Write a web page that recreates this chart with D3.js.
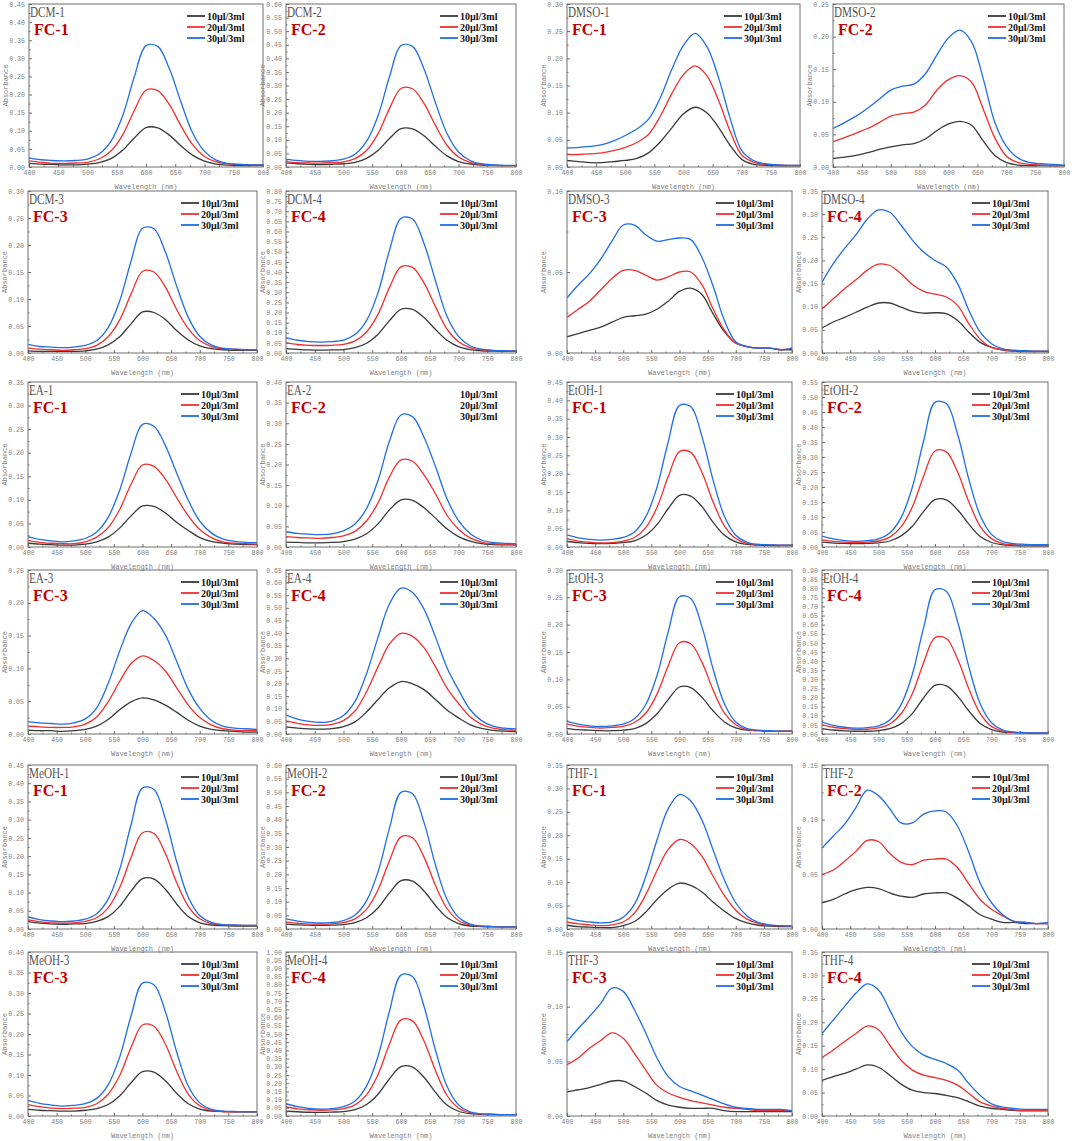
<!DOCTYPE html>
<html>
<head>
<meta charset="utf-8">
<script src="https://cdn.jsdelivr.net/npm/d3@7"></script>
<style>
  body { margin: 0; background: #fff; }
  svg { display: block; }
</style>
</head>
<body>
<script>
// wavelength grid (nm), shared by every spectrum
const wavelengths = [400,420,440,460,480,500,520,540,560,580,600,620,640,660,680,700,720,740,760,780,800];
const seriesNames = ["10µl/3ml", "20µl/3ml", "30µl/3ml"];
const xTicks = [400,450,500,550,600,650,700,750,800];

const panelNames = ["DCM-1","DCM-2","DMSO-1","DMSO-2","DCM-3","DCM-4","DMSO-3","DMSO-4",
  "EA-1","EA-2","EtOH-1","EtOH-2","EA-3","EA-4","EtOH-3","EtOH-4",
  "MeOH-1","MeOH-2","THF-1","THF-2","MeOH-3","MeOH-4","THF-3","THF-4"];
const fcLabels = ["FC-1","FC-2","FC-1","FC-2","FC-3","FC-4","FC-3","FC-4",
  "FC-1","FC-2","FC-1","FC-2","FC-3","FC-4","FC-3","FC-4",
  "FC-1","FC-2","FC-1","FC-2","FC-3","FC-4","FC-3","FC-4"];
const yMax = [0.45,0.60,0.30,0.25, 0.30,0.80,0.10,0.35, 0.35,0.40,0.45,0.55,
  0.25,0.65,0.30,0.90, 0.45,0.60,0.35,0.15, 0.40,1.00,0.15,0.35];

// absorbance, rows = 10 / 20 / 30 µl
const DCM_1 = [
  [.010,.008,.007,.006,.006,.008,.012,.023,.046,.080,.109,.108,.088,.058,.032,.016,.008,.005,.004,.004,.004],
  [.017,.013,.010,.010,.011,.013,.022,.044,.088,.156,.212,.211,.172,.113,.061,.029,.014,.009,.007,.006,.006],
  [.025,.020,.018,.017,.018,.022,.036,.071,.141,.249,.335,.333,.271,.178,.093,.043,.019,.010,.007,.006,.006]];
const DCM_2 = [
  [.015,.012,.010,.009,.010,.012,.017,.032,.061,.105,.141,.140,.115,.076,.041,.020,.011,.007,.006,.005,.005],
  [.020,.016,.015,.014,.016,.019,.031,.061,.122,.215,.289,.288,.234,.153,.080,.037,.017,.009,.006,.005,.005],
  [.028,.024,.021,.021,.023,.029,.047,.094,.188,.332,.447,.444,.361,.236,.123,.055,.024,.012,.008,.006,.006]];
const DMSO_1 = [
  [.012,.010,.008,.008,.010,.012,.016,.026,.046,.072,.098,.110,.100,.073,.040,.014,.005,.003,.002,.002,.002],
  [.023,.023,.024,.026,.030,.036,.045,.060,.093,.135,.170,.186,.168,.123,.066,.022,.009,.005,.004,.003,.003],
  [.035,.036,.038,.041,.048,.058,.070,.088,.127,.180,.224,.246,.222,.165,.090,.030,.012,.006,.004,.003,.003]];
const DMSO_2 = [
  [.013,.015,.018,.022,.027,.031,.034,.036,.043,.056,.066,.070,.064,.040,.018,.007,.003,.002,.002,.002,.002],
  [.039,.045,.052,.059,.068,.078,.082,.084,.095,.118,.134,.140,.130,.089,.045,.017,.007,.004,.003,.002,.002],
  [.059,.068,.078,.090,.104,.118,.124,.127,.143,.172,.198,.210,.192,.136,.069,.032,.014,.007,.005,.004,.003]];
const DCM_3 = [
  [.004,.003,.003,.003,.003,.004,.007,.015,.030,.054,.076,.075,.062,.041,.024,.013,.008,.006,.005,.005,.005],
  [.009,.007,.006,.005,.006,.008,.014,.030,.061,.109,.151,.150,.122,.080,.045,.023,.012,.008,.007,.006,.006],
  [.016,.012,.011,.010,.011,.014,.023,.047,.096,.170,.231,.230,.187,.123,.066,.031,.015,.009,.007,.006,.006]];
const DCM_4 = [
  [.022,.018,.015,.014,.015,.017,.026,.048,.093,.160,.216,.215,.175,.116,.063,.031,.017,.011,.009,.008,.008],
  [.050,.042,.038,.037,.038,.043,.060,.104,.191,.324,.425,.423,.346,.229,.118,.056,.027,.015,.012,.010,.010],
  [.075,.063,.056,.054,.056,.064,.091,.160,.297,.507,.665,.662,.541,.357,.181,.082,.036,.019,.013,.011,.010]];
const DMSO_3 = [
  [.010,.012,.014,.016,.019,.022,.023,.024,.027,.032,.038,.040,.036,.024,.013,.006,.004,.003,.003,.002,.002],
  [.022,.027,.032,.039,.046,.051,.051,.048,.045,.047,.050,.050,.042,.027,.014,.006,.004,.003,.003,.002,.003],
  [.034,.042,.049,.058,.069,.079,.079,.073,.069,.070,.071,.070,.059,.041,.020,.007,.004,.003,.003,.002,.003]];
const DMSO_4 = [
  [.054,.067,.077,.088,.099,.108,.108,.099,.090,.086,.087,.085,.070,.045,.023,.012,.006,.004,.003,.003,.003],
  [.095,.117,.139,.158,.179,.192,.189,.171,.148,.133,.127,.121,.103,.063,.030,.012,.007,.005,.004,.004,.004],
  [.153,.193,.226,.255,.289,.309,.304,.276,.244,.218,.200,.186,.150,.092,.045,.020,.009,.006,.005,.004,.004]];
const EA_1 = [
  [.008,.006,.005,.004,.004,.006,.011,.021,.040,.066,.087,.086,.072,.052,.035,.020,.012,.008,.006,.005,.005],
  [.014,.010,.008,.007,.007,.011,.021,.041,.079,.133,.174,.171,.144,.104,.066,.037,.020,.011,.008,.007,.006],
  [.022,.016,.013,.011,.013,.018,.032,.063,.120,.199,.260,.256,.215,.156,.099,.055,.030,.017,.012,.010,.009]];
const EA_2 = [
  [.012,.011,.010,.010,.011,.013,.019,.032,.056,.090,.114,.113,.095,.070,.044,.025,.014,.008,.006,.005,.005],
  [.025,.023,.022,.021,.023,.027,.038,.063,.107,.170,.211,.208,.175,.129,.077,.043,.022,.012,.008,.007,.006],
  [.037,.033,.031,.030,.032,.039,.056,.093,.161,.257,.320,.316,.266,.195,.117,.064,.033,.017,.011,.009,.008]];
const EtOH_1 = [
  [.015,.012,.010,.009,.010,.012,.017,.032,.061,.105,.141,.139,.110,.067,.032,.014,.007,.005,.004,.004,.004],
  [.022,.016,.013,.011,.012,.016,.026,.053,.108,.192,.260,.258,.203,.122,.057,.023,.010,.007,.006,.005,.005],
  [.033,.025,.021,.019,.021,.026,.041,.082,.163,.287,.386,.383,.301,.181,.083,.032,.013,.007,.006,.005,.005]];
const EtOH_2 = [
  [.016,.013,.012,.011,.012,.014,.020,.037,.069,.119,.158,.157,.124,.076,.035,.015,.007,.005,.004,.004,.004],
  [.024,.019,.016,.015,.016,.020,.033,.067,.134,.237,.320,.317,.250,.150,.069,.028,.011,.007,.006,.005,.005],
  [.036,.027,.021,.019,.021,.027,.047,.098,.200,.355,.482,.478,.376,.225,.105,.042,.018,.011,.009,.008,.008]];
const EA_3 = [
  [.006,.005,.005,.004,.005,.007,.012,.022,.037,.049,.055,.052,.044,.033,.021,.012,.007,.005,.004,.003,.003],
  [.012,.011,.010,.010,.011,.015,.026,.049,.080,.107,.119,.112,.096,.070,.044,.025,.014,.008,.006,.005,.005],
  [.019,.017,.016,.015,.017,.023,.040,.077,.126,.168,.188,.176,.151,.110,.068,.039,.021,.012,.009,.008,.007]];
const EA_4 = [
  [.028,.023,.020,.019,.021,.029,.048,.087,.137,.183,.208,.199,.176,.137,.095,.064,.037,.022,.014,.011,.010],
  [.052,.042,.036,.034,.038,.053,.091,.167,.266,.357,.399,.387,.342,.266,.182,.121,.068,.038,.023,.017,.015],
  [.075,.059,.050,.046,.051,.073,.129,.239,.383,.516,.578,.561,.495,.384,.263,.175,.097,.053,.031,.023,.020]];
const EtOH_3 = [
  [.010,.008,.007,.006,.006,.007,.010,.019,.037,.063,.086,.085,.067,.042,.022,.011,.007,.006,.005,.005,.005],
  [.018,.014,.012,.011,.012,.014,.021,.038,.073,.125,.167,.165,.131,.080,.038,.017,.008,.006,.005,.005,.005],
  [.023,.018,.015,.014,.015,.018,.028,.054,.107,.187,.251,.248,.196,.118,.055,.022,.010,.007,.006,.005,.005]];
const EtOH_4 = [
  [.030,.022,.017,.015,.015,.019,.029,.057,.113,.199,.267,.264,.208,.126,.058,.024,.010,.007,.006,.005,.005],
  [.050,.037,.029,.025,.026,.033,.055,.111,.222,.393,.529,.524,.412,.247,.112,.042,.016,.008,.006,.005,.005],
  [.065,.047,.037,.032,.035,.045,.077,.161,.329,.585,.792,.784,.616,.368,.166,.062,.022,.011,.008,.006,.006]];
const MeOH_1 = [
  [.020,.016,.014,.013,.014,.015,.021,.034,.062,.104,.138,.137,.109,.068,.034,.017,.011,.009,.008,.008,.008],
  [.025,.020,.017,.016,.017,.021,.031,.058,.113,.196,.264,.262,.207,.126,.062,.028,.015,.012,.011,.010,.010],
  [.033,.026,.022,.020,.022,.027,.042,.082,.163,.286,.387,.383,.302,.183,.087,.037,.018,.012,.011,.010,.010]];
const MeOH_2 = [
  [.018,.015,.014,.013,.014,.016,.023,.041,.077,.132,.177,.175,.139,.086,.042,.020,.011,.009,.008,.008,.008],
  [.025,.021,.018,.018,.019,.023,.037,.072,.143,.250,.337,.334,.263,.159,.075,.031,.015,.010,.009,.008,.008],
  [.037,.029,.024,.022,.024,.031,.051,.103,.209,.369,.500,.495,.390,.234,.108,.043,.018,.011,.009,.008,.008]];
const THF_1 = [
  [.008,.005,.004,.003,.003,.007,.016,.036,.063,.085,.098,.093,.079,.057,.038,.022,.013,.008,.006,.005,.005],
  [.015,.011,.009,.007,.009,.015,.034,.073,.125,.170,.191,.182,.155,.112,.071,.040,.021,.012,.008,.007,.006],
  [.024,.018,.015,.013,.015,.025,.053,.112,.190,.257,.287,.273,.232,.168,.104,.056,.028,.014,.009,.007,.006]];
const THF_2 = [
  [.024,.027,.032,.036,.038,.037,.033,.030,.029,.032,.033,.033,.028,.021,.013,.009,.006,.006,.005,.005,.005],
  [.050,.054,.062,.071,.081,.080,.069,.061,.059,.063,.064,.064,.056,.041,.027,.018,.012,.007,.006,.005,.005],
  [.074,.085,.096,.111,.127,.122,.110,.097,.097,.105,.108,.107,.094,.070,.042,.024,.013,.007,.006,.005,.006]];
const MeOH_3 = [
  [.016,.014,.013,.012,.012,.014,.018,.028,.049,.081,.108,.107,.086,.055,.030,.017,.012,.011,.010,.010,.010],
  [.028,.023,.019,.018,.019,.021,.030,.053,.098,.167,.222,.219,.175,.108,.053,.025,.014,.011,.010,.010,.010],
  [.038,.031,.027,.024,.026,.030,.043,.076,.143,.244,.324,.320,.254,.155,.073,.032,.016,.012,.011,.010,.010]];
const MeOH_4 = [
  [.030,.026,.023,.022,.024,.027,.039,.070,.133,.227,.301,.298,.236,.144,.067,.029,.014,.010,.009,.008,.008],
  [.055,.044,.038,.035,.037,.045,.068,.129,.252,.439,.586,.580,.457,.276,.125,.049,.020,.012,.009,.008,.008],
  [.075,.057,.047,.042,.045,.057,.091,.182,.363,.640,.859,.851,.669,.401,.181,.068,.025,.013,.010,.008,.008]];
const THF_3 = [
  [.022,.024,.026,.029,.032,.032,.027,.021,.014,.010,.008,.007,.007,.007,.005,.004,.004,.004,.004,.004,.004],
  [.047,.053,.062,.069,.076,.071,.057,.042,.028,.021,.017,.014,.012,.010,.008,.007,.006,.005,.005,.005,.005],
  [.068,.080,.091,.103,.117,.114,.097,.076,.053,.036,.027,.023,.019,.015,.011,.008,.007,.006,.006,.006,.005]];
const THF_4 = [
  [.076,.084,.091,.100,.109,.104,.087,.068,.055,.050,.048,.044,.039,.030,.021,.016,.014,.012,.011,.011,.011],
  [.125,.141,.159,.176,.192,.184,.151,.119,.098,.087,.082,.076,.066,.048,.030,.021,.016,.013,.012,.012,.013],
  [.176,.205,.234,.262,.282,.269,.226,.180,.148,.130,.121,.112,.098,.069,.044,.026,.019,.016,.014,.014,.014]];

const spectra = [DCM_1, DCM_2, DMSO_1, DMSO_2, DCM_3, DCM_4, DMSO_3, DMSO_4,
  EA_1, EA_2, EtOH_1, EtOH_2, EA_3, EA_4, EtOH_3, EtOH_4,
  MeOH_1, MeOH_2, THF_1, THF_2, MeOH_3, MeOH_4, THF_3, THF_4];

// ---- layout (plot frames of the 6 x 4 grid) ----
const colL = [28, 286, 567, 822], colR = [257, 516, 792, 1048];
const row1L = [29, 286, 567, 833], row1R = [263, 516, 800, 1064];
const rowT = [4, 191, 382, 570, 765, 952], rowB = [167, 353, 547, 734, 929, 1116];
const colors = ["#3a3a3a", "#f22e2e", "#1f6ee6"];
const axisGray = "#6e6e6e", labelGray = "#808080";
const monoFont = "'Liberation Mono', 'DejaVu Sans Mono', monospace";
const serifFont = "'Liberation Serif', 'DejaVu Serif', serif";

const svg = d3.select("body").append("svg")
  .attr("width", 1072)
  .attr("height", 1141);

const line = d3.line().curve(d3.curveCatmullRom.alpha(0.5));

panelNames.forEach(function(name, i) {
  var r = Math.floor(i / 4), c = i % 4;
  var left = r === 0 ? row1L[c] : colL[c];
  var right = r === 0 ? row1R[c] : colR[c];
  var top = rowT[r], bottom = rowB[r];
  var cx = (left + right) / 2;

  var x = d3.scaleLinear().domain([400, 800]).range([left, right]);
  var y = d3.scaleLinear().domain([0, yMax[i]]).range([bottom, top]);

  var g = svg.append("g");

  // clip so noisy tails stay in the frame
  var clipId = "clip" + i;
  g.append("clipPath").attr("id", clipId)
    .append("rect")
    .attr("x", left).attr("y", top)
    .attr("width", right - left).attr("height", bottom - top);

  // y ticks, major every 0.05 with a minor in between
  var nMajor = Math.round(yMax[i] / 0.05);
  var yMajor = d3.range(nMajor + 1).map(k => +(k * 0.05).toFixed(2));
  var yMinor = d3.range(nMajor).map(k => +(k * 0.05 + 0.025).toFixed(3));

  g.append("g")
    .attr("transform", `translate(${left},0)`)
    .call(d3.axisLeft(y).tickValues(yMajor).tickSize(-3).tickPadding(4).tickFormat(d3.format(".2f")));
  g.append("g")
    .attr("transform", `translate(${left},0)`)
    .call(d3.axisLeft(y).tickValues(yMinor).tickSize(-1.5).tickFormat(""));

  g.append("g")
    .attr("transform", `translate(0,${bottom})`)
    .call(d3.axisBottom(x).tickValues(xTicks).tickSize(-3).tickPadding(3).tickFormat(d3.format("d")));
  g.append("g")
    .attr("transform", `translate(0,${bottom})`)
    .call(d3.axisBottom(x).tickValues(xTicks.slice(0, -1).map(v => v + 25)).tickSize(-1.5).tickFormat(""));

  g.selectAll(".domain").remove();
  g.selectAll(".tick line").attr("stroke", axisGray);
  g.selectAll(".tick text")
    .attr("fill", labelGray)
    .style("font-family", monoFont)
    .style("font-size", "6.6px");

  // spectra
  spectra[i].forEach(function(vals, s) {
    g.append("path")
      .attr("clip-path", `url(#${clipId})`)
      .attr("d", line(vals.map((v, k) => [x(wavelengths[k]), y(v)])))
      .attr("fill", "none")
      .attr("stroke", colors[s])
      .attr("stroke-width", 1.3);
  });

  // frame
  g.append("rect")
    .attr("x", left).attr("y", top)
    .attr("width", right - left).attr("height", bottom - top)
    .attr("fill", "none")
    .attr("stroke", axisGray)
    .attr("stroke-width", 1);

  // axis titles
  g.append("text")
    .attr("x", cx).attr("y", bottom + 22)
    .attr("text-anchor", "middle")
    .attr("fill", labelGray)
    .style("font-family", monoFont)
    .style("font-size", "7px")
    .text("Wavelength (nm)");

  g.append("text")
    .attr("transform", `translate(${left - 21},${(top + bottom) / 2}) rotate(-90)`)
    .attr("text-anchor", "middle")
    .attr("fill", labelGray)
    .style("font-family", monoFont)
    .style("font-size", "7px")
    .text("Absorbance");

  // panel name (narrow serif) and FC label
  g.append("text")
    .attr("transform", `translate(${left + 1},${top + 13}) scale(0.8,1)`)
    .attr("fill", "#555")
    .style("font-family", serifFont)
    .style("font-size", "14px")
    .text(name);

  g.append("text")
    .attr("x", left + 5).attr("y", top + 31)
    .attr("fill", "#c00000")
    .style("font-family", serifFont)
    .style("font-weight", "bold")
    .style("font-size", "16px")
    .text(fcLabels[i]);

  // legend
  seriesNames.forEach(function(lbl, s) {
    var ly = top + 12 + s * 11;
    if (name !== "EA-2") {
      g.append("line")
        .attr("x1", right - 76).attr("x2", right - 58)
        .attr("y1", ly).attr("y2", ly)
        .attr("stroke", colors[s])
        .attr("stroke-width", 1.8);
    }
    g.append("text")
      .attr("x", right - 56).attr("y", ly + 3.5)
      .attr("fill", "#111")
      .style("font-family", serifFont)
      .style("font-weight", "bold")
      .style("font-size", "10px")
      .text(lbl);
  });
});
</script>
</body>
</html>
